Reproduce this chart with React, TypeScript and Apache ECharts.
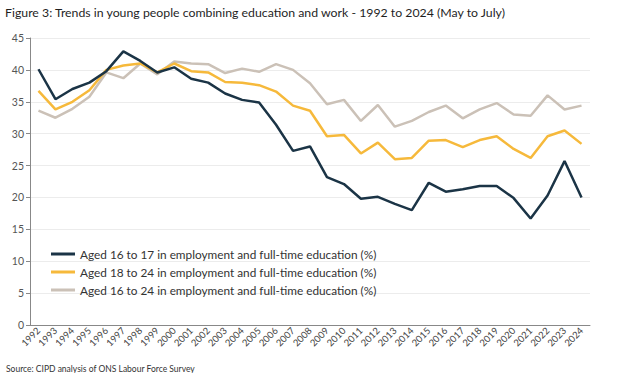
import React, { useEffect, useRef } from "react";
import * as echarts from "echarts";

const years = Array.from({ length: 33 }, (_, i) => String(1992 + i));

const aged16to17 = [
  40.1, 35.4, 37.0, 38.0, 39.8, 42.9, 41.4, 39.6, 40.4, 38.6, 38.0, 36.3, 35.3,
  34.9, 31.4, 27.3, 28.0, 23.2, 22.1, 19.8, 20.1, 19.0, 18.0, 22.3, 20.9, 21.3,
  21.8, 21.8, 19.9, 16.7, 20.3, 25.7, 20.0,
];
const aged18to24 = [
  36.7, 33.8, 35.0, 36.8, 40.0, 40.7, 41.0, 39.6, 41.0, 39.8, 39.6, 38.1, 38.0,
  37.6, 36.6, 34.4, 33.6, 29.6, 29.8, 26.9, 28.6, 26.0, 26.2, 28.9, 29.0, 27.9,
  29.0, 29.6, 27.6, 26.2, 29.6, 30.5, 28.4,
];
const aged16to24 = [
  33.6, 32.5, 33.9, 35.8, 39.6, 38.7, 41.0, 39.3, 41.3, 41.0, 40.9, 39.5, 40.2,
  39.7, 40.9, 40.0, 37.9, 34.6, 35.3, 32.0, 34.5, 31.1, 32.0, 33.4, 34.4, 32.4,
  33.8, 34.8, 33.0, 32.8, 36.0, 33.8, 34.4,
];

const seriesNames = [
  "Aged 16 to 17 in employment and full-time education (%)",
  "Aged 18 to 24 in employment and full-time education (%)",
  "Aged 16 to 24 in employment and full-time education (%)",
];
const colors = ["#1b3446", "#f6b93b", "#cbc1b7"];

const titleText =
  "Figure 3: Trends in young people combining education and work - 1992 to 2024 (May to July)";
const sourceText = "Source: CIPD analysis of ONS Labour Force Survey";

const FONT = "Lato, 'Open Sans', sans-serif";

export default function App() {
  const ref = useRef<HTMLDivElement>(null);
  useEffect(() => {
    if (!ref.current) return;
    const chart = echarts.init(ref.current, null, { renderer: "svg" });
    const data = [aged16to17, aged18to24, aged16to24];
    chart.setOption({
      animation: false,
      backgroundColor: "#ffffff",
      textStyle: { fontFamily: FONT },
      title: [
        {
          text: titleText,
          left: 0,
          top: 1,
          textStyle: {
            fontSize: 12.3,
            fontWeight: "normal",
            color: "#1f1f1f",
            fontFamily: FONT,
          },
        },
        {
          text: sourceText,
          left: 1,
          top: 359,
          textStyle: {
            fontSize: 8.5,
            fontWeight: "normal",
            color: "#333",
            fontFamily: FONT,
          },
        },
      ],
      legend: {
        orient: "vertical",
        left: 46,
        top: 243,
        itemWidth: 24,
        itemHeight: 3,
        itemGap: 6,
        icon: "rect",
        data: seriesNames,
        textStyle: { fontSize: 11.8, color: "#333", fontFamily: FONT },
      },
      grid: { left: 30, right: 50, top: 38, bottom: 48, containLabel: false },
      xAxis: {
        type: "category",
        data: years,
        boundaryGap: true,
        axisLine: { lineStyle: { color: "#888" } },
        axisTick: { show: false },
        axisLabel: {
          rotate: 45,
          interval: 0,
          fontSize: 9.5,
          color: "#444",
          margin: 4,
          fontFamily: FONT,
        },
      },
      yAxis: {
        type: "value",
        min: 0,
        max: 45,
        interval: 5,
        axisLine: { show: true, lineStyle: { color: "#888" } },
        axisTick: { show: true, length: 4, lineStyle: { color: "#888" } },
        axisLabel: { fontSize: 10.5, color: "#555", margin: 6, fontFamily: FONT },
        splitLine: { lineStyle: { color: "#ececec" } },
      },
      series: seriesNames.map((name, i) => ({
        name,
        type: "line",
        data: data[i],
        symbol: "none",
        lineStyle: { width: 2.5, color: colors[i] },
        itemStyle: { color: colors[i] },
        z: 3 - i,
      })),
    });
    return () => chart.dispose();
  }, []);
  return (
    <div
      ref={ref}
      style={{ position: "fixed", left: 0, top: 0, width: 640, height: 373 }}
    />
  );
}
